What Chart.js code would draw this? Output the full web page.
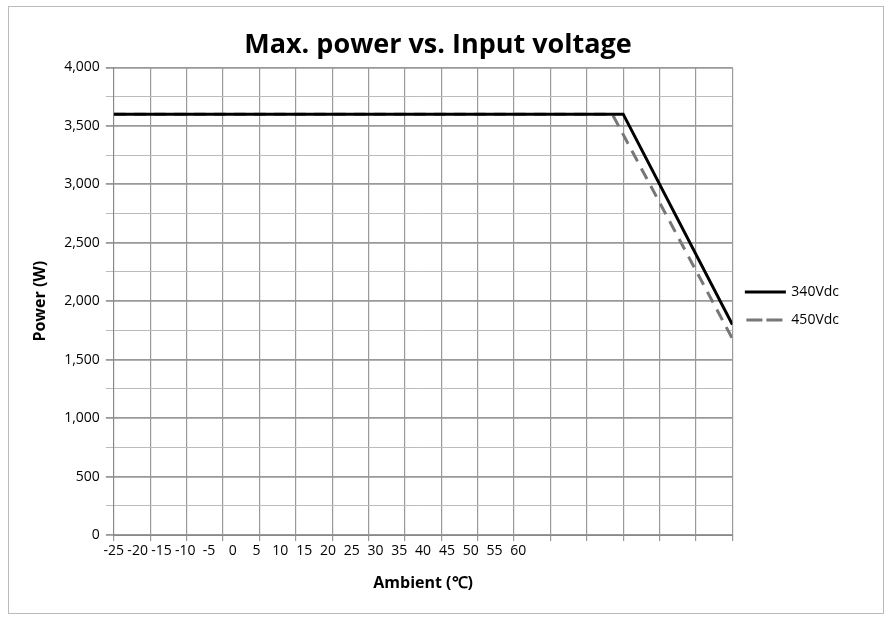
<!DOCTYPE html>
<html><head><meta charset="utf-8">
<script src="https://cdn.jsdelivr.net/npm/chart.js@4"></script>
<style>html,body{margin:0;background:#fff}#w{position:absolute;left:8px;top:6px;width:876px;height:608px;border:1px solid #bbb;box-sizing:border-box}</style>
</head><body><div id="w"><canvas id="c" width="874" height="606"></canvas></div>
<script>
const xTickLabels = [-25,-20,-15,-10,-5,0,5,10,15,20,25,30,35,40,45,50,55,60];
const s340 = [{x:0,y:3600},{x:14,y:3600},{x:17,y:1800}];
const s450 = [{x:0,y:3600},{x:13.7,y:3600},{x:17,y:1680}];
const F = '"Open Sans", Calibri, sans-serif';
new Chart(document.getElementById('c'), {
  type: 'line',
  data: { datasets: [
    {label:'340Vdc', data:s340, borderColor:'#000', backgroundColor:'#000', borderWidth:3, pointRadius:0, xAxisID:'x', tension:0},
    {label:'450Vdc', data:s450, borderColor:'#777', backgroundColor:'#777', borderWidth:3, borderDash:[12,8], pointRadius:0, xAxisID:'x', tension:0}
  ]},
  options: {
    responsive:false, animation:false,
    layout:{padding:{left:18,right:34,top:8,bottom:16}},
    plugins:{
      title:{display:true, text:'Max. power vs. Input voltage', font:{family:F,size:27,weight:'bold'}, color:'#000', padding:{top:14,bottom:6}},
      legend:{position:'right', labels:{boxWidth:38, boxHeight:0.1, color:'#000', font:{family:F,size:14}, padding:14}},
      tooltip:{enabled:false}
    },
    scales:{
      x:{type:'linear', min:0, max:17, position:'bottom',
        ticks:{display:false, stepSize:1}, grid:{color:'#999', lineWidth:1.2, tickLength:6}, border:{color:'#888'}},
      x2:{type:'linear', min:-25, max:105, position:'bottom',
        afterBuildTicks:a=>{a.ticks = xTickLabels.map(v=>({value:v}));},
        ticks:{autoSkip:false, maxRotation:0, color:'#000', font:{family:F,size:14}, padding:2},
        grid:{display:false, drawTicks:false}, border:{display:false},
        title:{display:true, text:'Ambient (℃)', color:'#000', font:{family:F,size:16,weight:'bold'}, padding:{top:12}}},
      y:{min:0, max:4000,
        ticks:{stepSize:250, color:'#000', font:{family:F,size:14}, padding:6, callback:v=> v%500===0 ? v.toLocaleString('en-US') : ''},
        grid:{color:c=> c.tick.value%500===0 ? '#999' : '#bbb', lineWidth:c=> c.tick.value%500===0 ? 1.8 : 1, tickLength:8},
        border:{color:'#888'},
        title:{display:true, text:'Power (W)', color:'#000', font:{family:F,size:16,weight:'bold'}, padding:{bottom:8}}}
    }
  }
});
</script></body></html>
